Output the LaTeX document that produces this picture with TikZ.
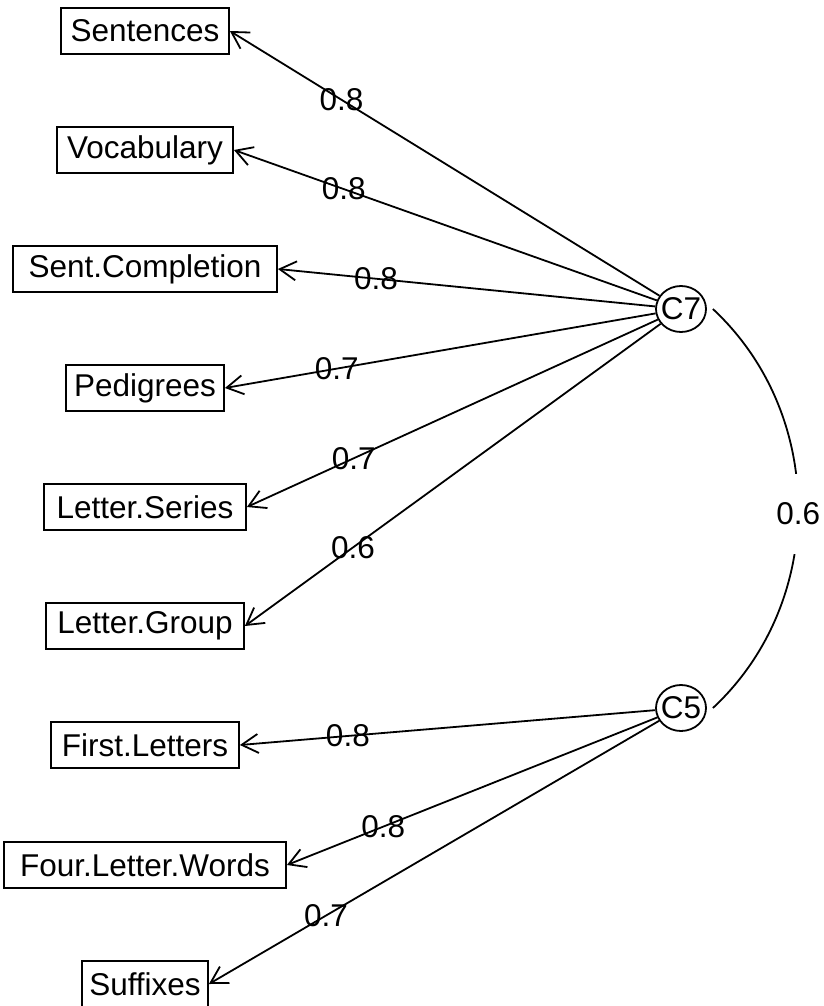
\documentclass[tikz,border=0pt]{standalone}
\usepackage{fontspec}
\setmainfont{Liberation Sans}
\usetikzlibrary{arrows.meta,shapes.geometric}
\begin{document}
\begin{tikzpicture}[x=1pt,y=1pt,
  every node/.style={font=\fontsize{31.5}{36}\selectfont},
  var/.style={draw, line width=1.8pt, rectangle, minimum height=46pt, inner xsep=0pt, inner ysep=0pt},
  lat/.style={draw, ellipse, line width=1.8pt, minimum width=50pt, minimum height=46pt, inner sep=0pt},
  load/.style={line width=1.8pt, -{Straight Barb[length=16.5pt,width=19pt]}},
  lbl/.style={pos=0.74, inner sep=0pt},
  corr/.style={line width=1.8pt}]
\useasboundingbox (0,0) rectangle (824,-1006);
% manifest variables
\node[var, minimum width=168pt] (sent) at (145,-31) {Sentences};
\node[var, minimum width=176pt] (voc) at (145,-150) {Vocabulary};
\node[var, minimum width=264pt] (sc) at (145,-269) {Sent.Completion};
\node[var, minimum width=158pt] (ped) at (145,-388) {Pedigrees};
\node[var, minimum width=202pt] (ls) at (145,-507) {Letter.Series};
\node[var, minimum width=198pt] (lg) at (145,-626) {Letter.Group};
\node[var, minimum width=188pt] (fl) at (145,-745) {First.Letters};
\node[var, minimum width=282pt] (flw) at (145,-865) {Four.Letter.Words};
\node[var, minimum width=126pt] (suf) at (145,-984) {Suffixes};
% latent variables
\node[lat] (C7) at (681,-309) {\makebox[0pt]{C7}};
\node[lat] (C5) at (681,-708) {\makebox[0pt]{C5}};
% loadings
\draw[load] (C7) -- (sent.east) node[lbl] {0.8};
\draw[load] (C7) -- (voc.east) node[lbl] {0.8};
\draw[load] (C7) -- (sc.east) node[lbl] {0.8};
\draw[load] (C7) -- (ped.east) node[lbl] {0.7};
\draw[load] (C7) -- (ls.east) node[lbl] {0.7};
\draw[load] (C7) -- (lg.east) node[lbl] {0.6};
\draw[load] (C5) -- (fl.east) node[lbl] {0.8};
\draw[load] (C5) -- (flw.east) node[lbl] {0.8};
\draw[load] (C5) -- (suf.east) node[lbl] {0.7};
% correlation
\draw[corr] ([xshift=6pt]C7.east) to[bend left=47]
  node[fill=white, minimum height=80pt, inner xsep=2pt, yshift=-5pt] {0.6}
  ([xshift=6pt]C5.east);
\end{tikzpicture}
\end{document}
